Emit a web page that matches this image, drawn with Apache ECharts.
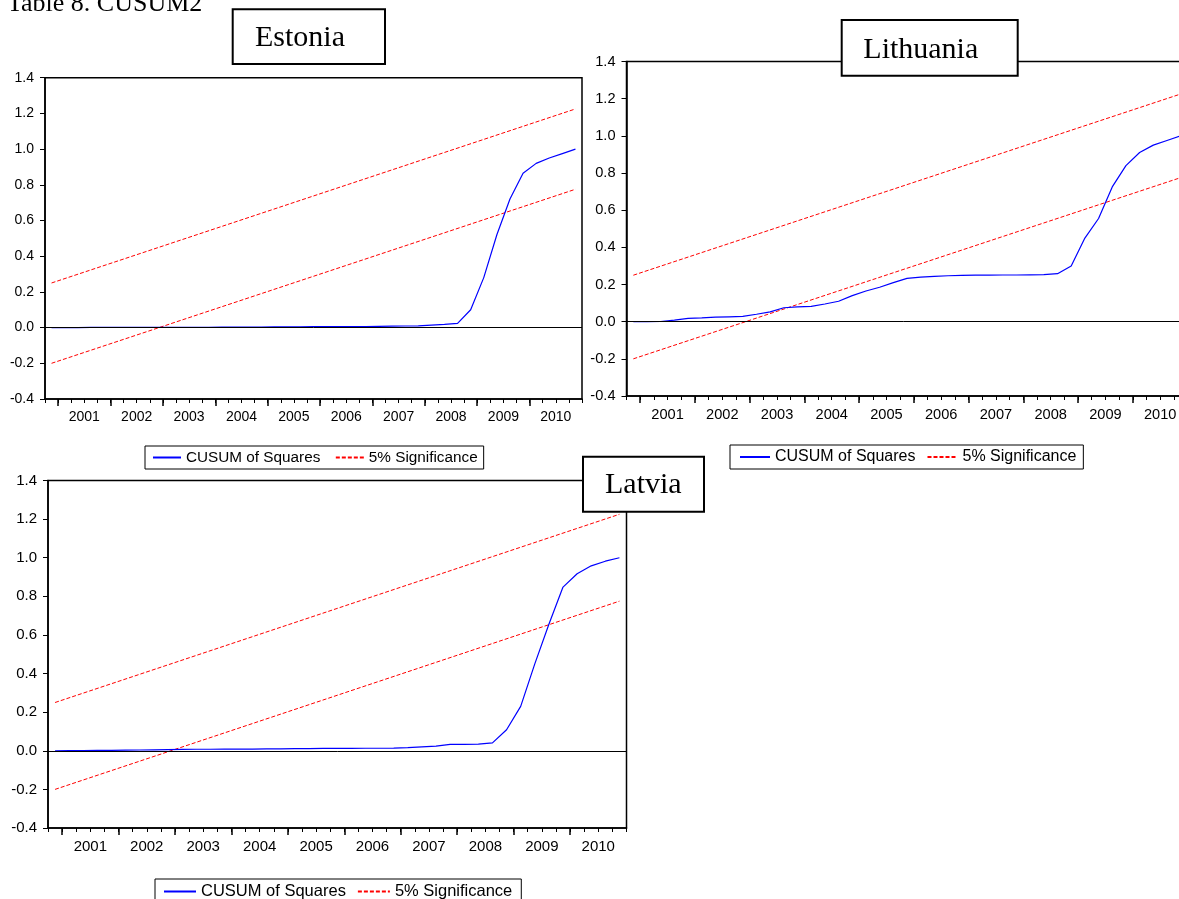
<!DOCTYPE html>
<html><head><meta charset="utf-8">
<script src="https://cdn.jsdelivr.net/npm/echarts@6/dist/echarts.min.js"></script>
<style>html,body{margin:0;padding:0;background:#fff}#c{width:1179px;height:899px}</style>
</head><body><div id="c"></div><script>
// ---- data ----
const QUARTERS = ['2000Q4',
 '2001Q1','2001Q2','2001Q3','2001Q4','2002Q1','2002Q2','2002Q3','2002Q4',
 '2003Q1','2003Q2','2003Q3','2003Q4','2004Q1','2004Q2','2004Q3','2004Q4',
 '2005Q1','2005Q2','2005Q3','2005Q4','2006Q1','2006Q2','2006Q3','2006Q4',
 '2007Q1','2007Q2','2007Q3','2007Q4','2008Q1','2008Q2','2008Q3','2008Q4',
 '2009Q1','2009Q2','2009Q3','2009Q4','2010Q1','2010Q2','2010Q3','2010Q4'];
const YEAR_LABELS = ['2001','2002','2003','2004','2005','2006','2007','2008','2009','2010'];
const ESTONIA = [0.000,
 0.000,0.000,0.001,0.001, 0.001,0.001,0.001,0.002,
 0.002,0.002,0.002,0.002, 0.003,0.003,0.003,0.003,
 0.004,0.004,0.004,0.005, 0.005,0.005,0.006,0.006,
 0.007,0.008,0.009,0.010, 0.014,0.018,0.024,0.100,
 0.280,0.520,0.720,0.865, 0.920,0.950,0.975,1.000];
const LITHUANIA = [0.000,
 0.000,0.001,0.008,0.018, 0.020,0.024,0.026,0.028,
 0.040,0.053,0.075,0.080, 0.082,0.095,0.110,0.140,
 0.165,0.185,0.210,0.233, 0.240,0.244,0.247,0.249,
 0.250,0.250,0.251,0.251, 0.252,0.253,0.258,0.300,
 0.450,0.555,0.725,0.840, 0.910,0.950,0.975,1.000];
const LATVIA = [0.000,
 0.001,0.001,0.002,0.002, 0.003,0.004,0.005,0.006,
 0.007,0.008,0.008,0.009, 0.009,0.009,0.010,0.010,
 0.011,0.011,0.012,0.012, 0.012,0.013,0.013,0.014,
 0.016,0.020,0.024,0.033, 0.033,0.034,0.041,0.109,
 0.230,0.450,0.655,0.848, 0.917,0.958,0.982,1.000];
const SIG_UPPER = [0.25, 1.225];   // at first and last quarter
const SIG_LOWER = [-0.20, 0.775];

// ---- layout ----
const PANELS = [
 {name:'Estonia', data:ESTONIA, grid:{left:45, top:77.7, width:537, height:321.3}, font:14,
  legend:{left:145, top:446, font:15.3, iw:28, pad:[3,6,3,7], gap:14.5, lh:17},
  box:{x:232.7, y:9.3, w:152.3, h:54.7, tx:255, ty:38.2}},
 {name:'Lithuania', data:LITHUANIA, grid:{left:626.5, top:61.5, width:561, height:334.5}, font:14.6,
  legend:{left:730, top:445, font:16, iw:30, pad:[3,7,3,9], gap:11, lh:18},
  box:{x:841.7, y:20, w:176, h:55.7, tx:863.3, ty:49.9}},
 {name:'Latvia', data:LATVIA, grid:{left:48, top:480.5, width:578.5, height:347.5}, font:15,
  legend:{left:155, top:879, font:16.5, iw:32, pad:[3,9,3,8], gap:11, lh:19},
  box:{x:583, y:456.7, w:121, h:55, tx:605, ty:485.6}}
];

function qx(label){ const y = +label.slice(0,4), q = +label.slice(5); return y + (q-1)/4 + 0.125; }
const X_MIN = 2000.75, X_MAX = 2011;
const YEAR_BOUNDS = YEAR_LABELS.map(y => +y);
const FONT = '"Liberation Sans", Arial, sans-serif';

const grids = [], xAxes = [], yAxes = [], series = [], legends = [], graphics = [];
graphics.push({type:'text', x:7, y:4.5, z:100,
  style:{text:'Table 8. CUSUM2', font:'26px "Liberation Serif", serif', fill:'#000', verticalAlign:'middle'}});

PANELS.forEach((p, k) => {
  grids.push(Object.assign({show:true, borderColor:'#000', borderWidth:1.5, backgroundColor:'#fff',
    containLabel:false, outerBoundsMode:'none'}, p.grid));
  // minor (quarter) ticks + year labels
  xAxes.push({type:'value', gridIndex:k, min:X_MIN, max:X_MAX, interval:0.25,
    axisLine:{show:true, onZero:false, lineStyle:{color:'#000', width:1.5}},
    axisTick:{show:true, inside:false, length:4, lineStyle:{color:'#000', width:1}},
    splitLine:{show:false},
    axisLabel:{show:true, margin:11, color:'#000', fontFamily:FONT, fontSize:p.font,
      showMinLabel:true, showMaxLabel:true,
      formatter:v => { const f = v - Math.floor(v); if (Math.abs(f-0.5) < 1e-6) { const i = YEAR_LABELS.indexOf(String(Math.floor(v))); return i >= 0 ? YEAR_LABELS[i] : ''; } return ''; }}
  });
  // major (year) ticks
  xAxes.push({type:'value', gridIndex:k, min:X_MIN, max:X_MAX, position:'bottom',
    axisLine:{show:false, onZero:false},
    axisTick:{show:true, inside:false, length:7, customValues:YEAR_BOUNDS, lineStyle:{color:'#000', width:1.5}},
    axisLabel:{show:false}, splitLine:{show:false}
  });
  yAxes.push({type:'value', gridIndex:k, min:-0.4, max:1.4, interval:0.2,
    axisLine:{show:true, onZero:false, lineStyle:{color:'#000', width:1.5}},
    axisTick:{show:true, inside:false, length:5, lineStyle:{color:'#000', width:1}},
    splitLine:{show:false},
    axisLabel:{margin:11, color:'#000', fontFamily:FONT, fontSize:p.font, formatter:v => v.toFixed(1)}
  });
  const xi = 2*k;
  series.push({name:'CUSUM of Squares', type:'line', xAxisIndex:xi, yAxisIndex:k,
    data:p.data.map((v,i) => [qx(QUARTERS[i]), v]), symbol:'none', smooth:false,
    lineStyle:{color:'#0000ff', width:1.2}, itemStyle:{color:'#0000ff'}, z:3,
    markLine:{silent:true, symbol:['none','none'], label:{show:false},
      lineStyle:{color:'#000', width:1, type:'solid'}, data:[{yAxis:0}], animation:false}
  });
  const x0 = qx(QUARTERS[0]), x1 = qx(QUARTERS[QUARTERS.length-1]);
  [SIG_UPPER, SIG_LOWER].forEach(s => {
    series.push({name:'5% Significance', type:'line', xAxisIndex:xi, yAxisIndex:k,
      data:[[x0, s[0]], [x1, s[1]]], symbol:'none',
      lineStyle:{color:'#ff0000', width:1, type:[4,2]}, itemStyle:{color:'#ff0000'}, z:2});
  });
  const L = p.legend;
  legends.push({left:L.left, top:L.top, orient:'horizontal', selectedMode:false,
    data:['CUSUM of Squares','5% Significance'],
    borderColor:'#000', borderWidth:1, backgroundColor:'#fff', padding:L.pad, itemGap:L.gap,
    itemWidth:L.iw, itemHeight:14, itemStyle:{opacity:0},
    textStyle:{fontFamily:FONT, fontSize:L.font, color:'#000', lineHeight:L.lh}});
  const b = p.box;
  graphics.push({type:'rect', z:100, shape:{x:b.x, y:b.y, width:b.w, height:b.h},
    style:{fill:'#fff', stroke:'#000', lineWidth:2}});
  graphics.push({type:'text', z:101, x:b.tx, y:b.ty,
    style:{text:p.name, font:'30px "Liberation Serif", serif', fill:'#000', verticalAlign:'middle'}});
});

const chart = echarts.init(document.getElementById('c'), null, {renderer:'canvas'});
chart.setOption({animation:false, backgroundColor:'#fff',
  grid:grids, xAxis:xAxes, yAxis:yAxes, series:series, legend:legends, graphic:graphics});
</script></body></html>
